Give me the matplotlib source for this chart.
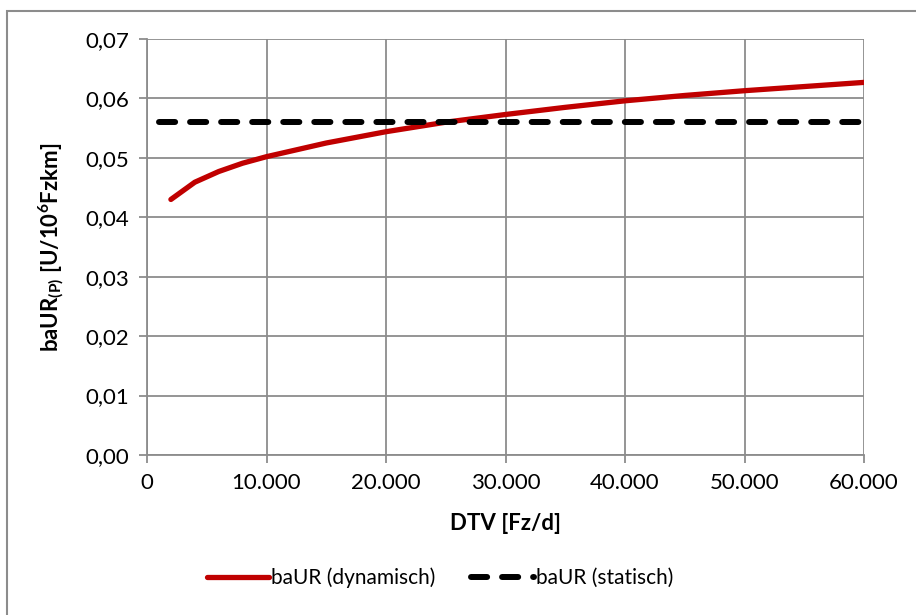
import matplotlib.pyplot as plt
from matplotlib.patches import Rectangle
from matplotlib.ticker import FuncFormatter, MultipleLocator

# values
dtv_dyn = [2000, 4000, 6000, 8000, 10000, 15000, 20000, 25000, 30000,
           35000, 40000, 45000, 50000, 55000, 60000]
baur_dyn = [0.0430, 0.0459, 0.0477, 0.0491, 0.0502, 0.0525, 0.0544, 0.0560,
            0.0573, 0.0585, 0.0596, 0.0605, 0.0613, 0.0620, 0.0627]
dtv_stat = [1000, 60000]
baur_stat = [0.056, 0.056]

plt.rcParams["font.family"] = ["Lato", "DejaVu Sans"]
plt.rcParams["mathtext.default"] = "regular"

fig = plt.figure(figsize=(9.16, 6.15), dpi=100)
ax = fig.add_axes([147 / 916, 1 - 455 / 615, 717 / 916, 416 / 615])

fig.patches.append(Rectangle((7 / 916, -0.1), 1.2, 1 - 10.5 / 615 + 0.1,
                             transform=fig.transFigure, fill=False,
                             edgecolor="#8c8c8c", linewidth=1.5))

ax.plot(dtv_dyn, baur_dyn, color="#c00000", linewidth=3.8,
        solid_capstyle="round", solid_joinstyle="round",
        label="baUR (dynamisch)")
ax.plot(dtv_stat, baur_stat, color="black", linewidth=4.3,
        dashes=(2.7, 2.5), dash_capstyle="round",
        label="baUR (statisch)")

ax.set_xlim(0, 60000)
ax.set_ylim(0, 0.07)
ax.xaxis.set_major_locator(MultipleLocator(10000))
ax.yaxis.set_major_locator(MultipleLocator(0.01))
ax.xaxis.set_major_formatter(FuncFormatter(lambda v, p: f"{int(v):,}".replace(",", ".")))
ax.yaxis.set_major_formatter(FuncFormatter(lambda v, p: f"{v:.2f}".replace(".", ",")))

ax.grid(True, color="#8c8c8c", linewidth=1.3)
ax.set_axisbelow(True)
for s in ax.spines.values():
    s.set_visible(False)
for side in ("left", "bottom"):
    ax.spines[side].set_visible(True)
    ax.spines[side].set_color("#8c8c8c")
    ax.spines[side].set_linewidth(1.3)
ax.tick_params(axis="both", colors="#8c8c8c", length=6, width=1.3,
               labelsize=16, labelcolor="black", direction="out")
ax.tick_params(axis="x", pad=7)
ax.tick_params(axis="y", pad=7)

ax.set_xlabel("DTV [Fz/d]", fontsize=16, fontweight="bold", labelpad=14)
ax.set_ylabel(r"baUR$_{(P)}$ [U/10$^{6}$Fzkm]", fontsize=16,
              fontweight="bold", labelpad=14)

fig.legend(*ax.get_legend_handles_labels(), loc="center left",
           bbox_to_anchor=(188 / 916, 1 - 578 / 615), ncol=2, frameon=False,
           fontsize=15, handlelength=3.0, handletextpad=0.1,
           columnspacing=1.7)

fig.savefig("out.png", dpi=100)
